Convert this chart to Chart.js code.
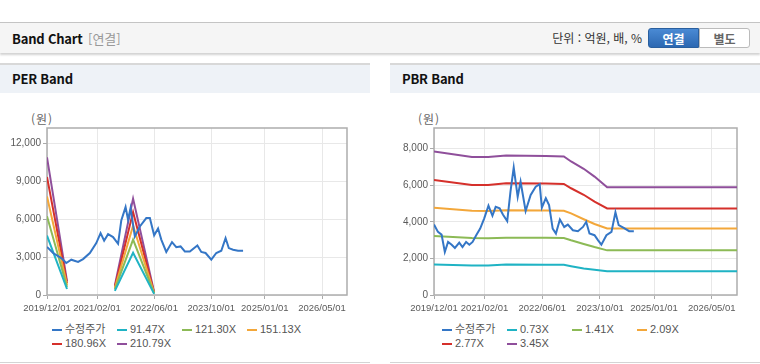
<!DOCTYPE html>
<html lang="ko">
<head>
<meta charset="UTF-8">
<title>Band Chart</title>
<script src="https://cdn.jsdelivr.net/npm/chart.js"></script>
<style>
    body {
        margin: 0;
        width: 760px;
        height: 364px;
        background: #fff;
        position: relative;
        overflow: hidden;
        font-family: 'Noto Sans CJK KR', 'Liberation Sans', sans-serif;
    }
    .topbar {
        position: absolute;
        left: 0;
        top: 22px;
        width: 760px;
        height: 30px;
        background: #f5f5f5;
        border-top: 1px solid #c4c4c4;
        box-shadow: 0 2px 2px rgba(0,0,0,0.18);
    }
    .topbar .title {
        position: absolute;
        left: 12px;
        top: 6px;
        font-size: 13px;
        letter-spacing: -0.2px;
        font-weight: bold;
        color: #111;
    }
    .topbar .sub {
        position: absolute;
        left: 88px;
        top: 6px;
        font-size: 13px;
        color: #999;
    }
    .topbar .unit {
        position: absolute;
        right: 118px;
        top: 6px;
        font-size: 12px;
        color: #333;
    }
    .btn {
        position: absolute;
        top: 5px;
        width: 51px;
        height: 20px;
        line-height: 19px;
        text-align: center;
        font-size: 12px;
        font-weight: bold;
        box-sizing: border-box;
    }
    .btn.on {
        left: 648px;
        color: #fff;
        background: linear-gradient(#4a8ad4, #2c68b2);
        border: 1px solid #2a5f9e;
        border-radius: 3px 0 0 3px;
    }
    .btn.off {
        left: 699px;
        color: #666;
        background: #fff;
        border: 1px solid #bbb;
        border-radius: 0 3px 3px 0;
    }
    .panel {
        position: absolute;
        top: 63px;
        width: 370px;
        height: 299px;
        border-bottom: 1px solid #d4d4d4;
    }
    .panel-head {
        height: 28px;
        line-height: 28px;
        background: #eef2f7;
        border-top: 2px solid #d8d8d8;
        padding-left: 12px;
        font-size: 13px;
        letter-spacing: -0.2px;
        font-weight: bold;
        color: #111;
    }
    .panel canvas {
        position: absolute;
        left: 0;
        top: 30px;
    }
    .won {
        position: absolute;
        top: 47px;
        font-size: 12px;
        letter-spacing: 1px;
        color: #666;
    }
    .legend {
        position: absolute;
        left: 52px;
        top: 260px;
        width: 280px;
        font-family: 'Liberation Sans', 'Noto Sans CJK KR', sans-serif;
        font-size: 11px;
        color: #555;
    }
    .legend .item {
        display: inline-block;
        width: 65px;
        height: 13.5px;
        line-height: 13.5px;
        white-space: nowrap;
    }
    .legend .mark {
        display: inline-block;
        width: 10px;
        height: 2px;
        margin-right: 3px;
        vertical-align: middle;
    }
</style>
</head>
<body>
    <div class="topbar">
        <span class="title">Band Chart</span>
        <span class="sub">[연결]</span>
        <span class="unit">단위 : 억원, 배, %</span>
        <span class="btn on">연결</span>
        <span class="btn off">별도</span>
    </div>

    <div class="panel" style="left:0">
        <div class="panel-head">PER Band</div>
        <span class="won" style="left:31px">(원)</span>
        <canvas id="perChart" width="370" height="225"></canvas>
        <div class="legend" id="perLegend"></div>
    </div>

    <div class="panel" style="left:390px">
        <div class="panel-head">PBR Band</div>
        <span class="won" style="left:28px">(원)</span>
        <canvas id="pbrChart" width="370" height="225"></canvas>
        <div class="legend" id="pbrLegend"></div>
    </div>

<script>
    // x axis: months since 2019/12/01
    const xTickMonths = [0, 14, 30, 46, 61, 77];
    const xTickLabels = ['2019/12/01', '2021/02/01', '2022/06/01', '2023/10/01', '2025/01/01', '2026/05/01'];
    const xMax = 84;

    // PER Band
    const perNames = ['수정주가', '91.47X', '121.30X', '151.13X', '180.96X', '210.79X'];
    const perPriceMonth = [0, 1.7, 4.0, 5.4, 6.8, 8.7, 10.1, 12.0, 13.8, 15.0, 16.0, 17.1, 18.5, 19.9,
        20.8, 22.0, 22.7, 23.4, 24.6, 26.0, 27.8, 28.8, 30.0, 31.1, 32.0, 33.4, 35.0, 36.2, 37.4,
        38.6, 40.0, 42.1, 43.2, 44.4, 46.0, 47.4, 48.8, 50.0, 50.9, 52.1, 53.5, 54.9];
    const perPrice = [3800, 3320, 2920, 2530, 2790, 2610, 2840, 3320, 4100, 4890, 4290, 4810, 4580, 4050,
        5900, 6950, 5950, 6870, 4630, 5420, 6080, 6080, 4720, 5260, 4380, 3400, 4180, 3780, 3840,
        3440, 3440, 3920, 3400, 3320, 2790, 3320, 3500, 4500, 3710, 3580, 3500, 3500];
    const perBandMonth = [0, 5.6, 12, 19, 24.1, 30];
    const per91 = [4700, 475, null, 330, 3330, 90];
    const per121 = [6230, 630, null, 440, 4380, 120];
    const per151 = [7780, 785, null, 550, 5470, 150];
    const per181 = [9330, 940, null, 650, 6550, 180];
    const per211 = [10880, 1095, null, 760, 7620, 210];
    const perYTicks = [0, 3000, 6000, 9000, 12000];
    const perYMax = 13200;

    // PBR Band
    const pbrNames = ['수정주가', '0.73X', '1.41X', '2.09X', '2.77X', '3.45X'];
    const pbrPriceMonth = [0, 1.1, 2.1, 3.0, 3.9, 4.9, 5.8, 7.0, 7.9, 8.9, 9.8, 10.7, 11.7, 12.8, 13.9,
        15.1, 16.2, 17.1, 18.2, 19.1, 20.3, 21.2, 22.1, 23.2, 24.0, 25.4, 26.8, 28.2, 29.3, 29.9,
        31.0, 31.9, 32.9, 33.8, 34.9, 36.1, 37.1, 38.5, 39.9, 41.3, 42.2, 43.1, 44.5, 45.5, 46.4,
        47.8, 49.2, 50.3, 51.2, 52.6, 54.1, 55.4];
    const pbrPrice = [3850, 3450, 3300, 2350, 2900, 2750, 2570, 2860, 2620, 2900, 2750, 2900, 3270, 3630, 4180,
        4880, 4330, 4820, 4740, 4400, 4040, 5650, 6970, 5370, 6200, 4590, 5470, 5920, 6060, 4770,
        5290, 4920, 3630, 3360, 4130, 3720, 3850, 3540, 3490, 3720, 4000, 3360, 3270, 2990, 2750,
        3270, 3450, 4520, 3820, 3670, 3490, 3490];
    const pbrBandMonth = [0, 10.5, 15, 20, 31, 36, 38, 41.5, 44.5, 48, 84];
    const pbr073 = [1668, 1613, 1610, 1668, 1660, 1650, 1575, 1450, 1376, 1300, 1300];
    const pbr141 = [3230, 3116, 3100, 3130, 3130, 3116, 2990, 2790, 2620, 2440, 2440];
    const pbr209 = [4770, 4600, 4590, 4640, 4620, 4603, 4460, 4140, 3880, 3634, 3634];
    const pbr277 = [6290, 6020, 6020, 6110, 6100, 6073, 5836, 5480, 5100, 4735, 4735];
    const pbr345 = [7850, 7540, 7540, 7630, 7600, 7575, 7300, 6900, 6475, 5890, 5890];
    const pbrYTicks = [0, 2000, 4000, 6000, 8000];
    const pbrYMax = 9130;

    const colors = ['#3476c6', '#1fb3c4', '#8cba56', '#f3a73a', '#d5302b', '#8f4f9b'];
    const xTickFont = { family: "'Liberation Sans', sans-serif", size: 9.5 };
    const yTickFont = { family: "'Liberation Sans', sans-serif", size: 10 };

    function pts(xs, ys) {
        return xs.map((x, i) => ({ x: x, y: ys[i] }));
    }

    // grey frame round the plot area
    const framePlugin = {
        id: 'frame',
        beforeDatasetsDraw(chart) {
            const { ctx, chartArea: a } = chart;
            ctx.save();
            ctx.strokeStyle = '#adadad';
            ctx.lineWidth = 1.5;
            ctx.strokeRect(a.left, a.top, a.right - a.left, a.bottom - a.top);
            ctx.restore();
        }
    };

    function makeChart(id, priceX, priceY, bandX, bands, yTicks, yMax, yWidth) {
        const datasets = [{ data: pts(priceX, priceY), borderColor: colors[0] }]
            .concat(bands.map((b, i) => ({ data: pts(bandX, b), borderColor: colors[i + 1] })));
        datasets.forEach(d => {
            d.borderWidth = 2;
            d.pointRadius = 0;
            d.tension = 0;
            d.fill = false;
        });
        new Chart(document.getElementById(id), {
            type: 'line',
            data: { datasets: datasets },
            options: {
                responsive: false,
                animation: false,
                layout: { padding: { top: 35, right: 23, left: 0, bottom: 0 } },
                plugins: { legend: { display: false }, tooltip: { enabled: false } },
                scales: {
                    x: {
                        type: 'linear',
                        min: 0,
                        max: xMax,
                        afterBuildTicks: s => { s.ticks = xTickMonths.map(v => ({ value: v })); },
                        afterFit: s => { s.height = 23; },
                        ticks: {
                            callback: (v, i) => xTickLabels[i],
                            font: xTickFont,
                            color: '#5a5a5a',
                            padding: 4,
                            maxRotation: 0,
                            autoSkip: false
                        },
                        grid: { color: '#e8e8e8', tickColor: '#aaa', tickLength: 4 },
                        border: { display: false }
                    },
                    y: {
                        min: 0,
                        max: yMax,
                        afterBuildTicks: s => { s.ticks = yTicks.map(v => ({ value: v })); },
                        afterFit: s => { s.width = yWidth; },
                        ticks: {
                            callback: v => v.toLocaleString('en-US'),
                            font: yTickFont,
                            color: '#5a5a5a',
                            padding: 2
                        },
                        grid: { color: '#e8e8e8', tickColor: '#aaa', tickLength: 4 },
                        border: { display: false }
                    }
                }
            },
            plugins: [framePlugin]
        });
    }

    function makeLegend(id, names) {
        const box = document.getElementById(id);
        names.forEach((n, i) => {
            const item = document.createElement('span');
            item.className = 'item';
            item.innerHTML = '<span class="mark" style="background:' + colors[i] + '"></span>' + n;
            box.appendChild(item);
        });
    }

    makeChart('perChart', perPriceMonth, perPrice, perBandMonth,
        [per91, per121, per151, per181, per211], perYTicks, perYMax, 47);
    makeChart('pbrChart', pbrPriceMonth, pbrPrice, pbrBandMonth,
        [pbr073, pbr141, pbr209, pbr277, pbr345], pbrYTicks, pbrYMax, 44);
    makeLegend('perLegend', perNames);
    makeLegend('pbrLegend', pbrNames);
</script>
</body>
</html>
